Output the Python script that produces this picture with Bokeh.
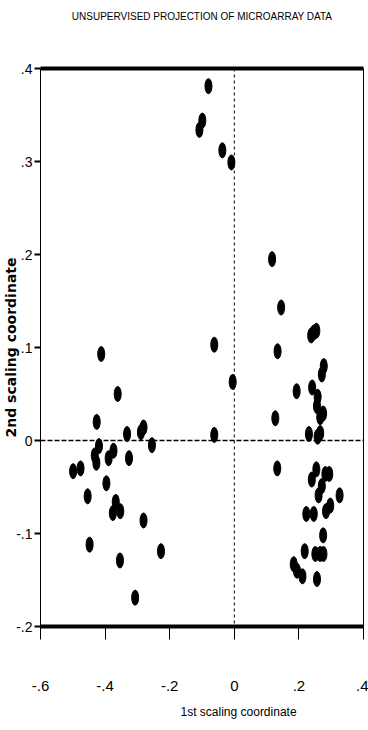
import math
from bokeh.plotting import figure
from bokeh.models import (ColumnDataSource, Span, LinearAxis, FixedTicker, Range1d, Title)
from bokeh.embed import file_html
from bokeh.resources import INLINE

# ---- data ----
x_vals = [
    -0.080, -0.099, -0.108, -0.037, -0.009, -0.062, -0.005, -0.062,
    0.117, 0.145, 0.246, 0.238, 0.254, 0.134, 0.277, 0.271, 0.193, 0.241,
    0.258, 0.256, 0.127, 0.266, 0.275, 0.231, 0.258, 0.266,
    0.133, 0.254, 0.240, 0.282, 0.294, 0.271, 0.261, 0.326, 0.297, 0.284,
    0.223, 0.246, 0.275, 0.218, 0.251, 0.266, 0.276, 0.184, 0.194, 0.211, 0.256,
    -0.412, -0.361, -0.426, -0.332, -0.289, -0.281, -0.255, -0.419, -0.374,
    -0.432, -0.427, -0.389, -0.326, -0.499, -0.476, -0.396, -0.454, -0.367,
    -0.376, -0.353, -0.281, -0.448, -0.227, -0.354, -0.307,
]
y_vals = [
    0.381, 0.344, 0.334, 0.312, 0.299, 0.103, 0.063, 0.006,
    0.195, 0.143, 0.116, 0.113, 0.118, 0.096, 0.080, 0.071, 0.053, 0.057,
    0.047, 0.037, 0.024, 0.025, 0.029, 0.007, 0.004, 0.008,
    -0.030, -0.031, -0.042, -0.036, -0.036, -0.049, -0.059, -0.059, -0.070, -0.076,
    -0.079, -0.079, -0.102, -0.119, -0.122, -0.122, -0.122, -0.133, -0.140, -0.146, -0.149,
    0.093, 0.050, 0.020, 0.007, 0.009, 0.014, -0.005, -0.006, -0.011,
    -0.016, -0.024, -0.019, -0.019, -0.033, -0.030, -0.046, -0.060, -0.066,
    -0.078, -0.076, -0.086, -0.112, -0.119, -0.129, -0.169,
]
x_ticks = [-0.6, -0.4, -0.2, 0.0, 0.2, 0.4]
x_tick_labels = ["-.6", "-.4", "-.2", "0", ".2", ".4"]
y_ticks = [-0.2, -0.1, 0.0, 0.1, 0.2, 0.3, 0.4]
y_tick_labels = ["-.2", "-.1", "0", ".1", ".2", ".3", ".4"]
title_text = "UNSUPERVISED PROJECTION OF MICROARRAY DATA"
x_title = "1st scaling coordinate"
y_title = "2nd scaling coordinate"

SANS = "Liberation Sans"

p = figure(width=368, height=730, output_backend="svg", toolbar_location=None,
           x_range=Range1d(-0.6, 0.4), y_range=Range1d(-0.2, 0.4),
           min_border_left=40, min_border_right=5, min_border_top=68, min_border_bottom=104)
p.grid.visible = False
p.outline_line_color = "black"
p.outline_line_width = 1
p.background_fill_color = "white"
p.border_fill_color = "white"

# x axis (bottom, thick line)
xa = p.xaxis[0]
xa.ticker = FixedTicker(ticks=x_ticks)
xa.major_label_overrides = dict(zip(x_ticks, x_tick_labels))
xa.axis_line_width = 4
xa.major_tick_in = 0
xa.major_tick_out = 13
xa.major_tick_line_width = 1
xa.minor_tick_line_color = None
xa.major_label_standoff = 41
xa.major_label_text_font = SANS
xa.major_label_text_font_size = "15px"
xa.major_label_text_color = "black"

# x title, placed right of the frame centre as in the reference
p.add_layout(Title(text=x_title, align="left", offset=140, standoff=20,
                   vertical_align="middle",
                   text_font=SANS, text_font_size="12px", text_font_style="normal",
                   text_color="black"), "below")

# y axis
ya = p.yaxis[0]
ya.ticker = FixedTicker(ticks=y_ticks)
ya.major_label_overrides = dict(zip(y_ticks, y_tick_labels))
ya.axis_line_width = 1
ya.major_tick_in = 0
ya.major_tick_out = 6
ya.major_tick_line_width = 2
ya.minor_tick_line_color = None
ya.major_label_standoff = 2
ya.major_label_text_font = SANS
ya.major_label_text_font_size = "14px"
ya.major_label_text_color = "black"
ya.axis_label = y_title
ya.axis_label_standoff = -6
ya.axis_label_text_font = "DejaVu Sans"
ya.axis_label_text_font_style = "bold"
ya.axis_label_text_font_size = "14px"
ya.axis_label_text_color = "black"

# thick top border, carrying the chart title as its label
top_axis = LinearAxis(ticker=FixedTicker(ticks=[]), axis_line_width=4,
                      major_tick_line_color=None, minor_tick_line_color=None,
                      major_tick_out=0, major_label_standoff=0,
                      major_label_text_font_size="0px",
                      axis_label=title_text, axis_label_standoff=47,
                      axis_label_text_font=SANS, axis_label_text_font_size="10px",
                      axis_label_text_font_style="normal", axis_label_text_color="black")
p.add_layout(top_axis, "above")

# reference dashed lines at 0
p.add_layout(Span(location=0, dimension="height", line_color="black",
                  line_dash="3 3", line_width=1))
p.add_layout(Span(location=0, dimension="width", line_color="black",
                  line_dash="5 2", line_width=1.5))

src = ColumnDataSource(dict(x=x_vals, y=y_vals))
p.ellipse(x="x", y="y", width=7, height=15, width_units="screen", height_units="screen",
          source=src, fill_color="black", line_color="black")

open("out.html", "w").write(file_html(p, INLINE))
